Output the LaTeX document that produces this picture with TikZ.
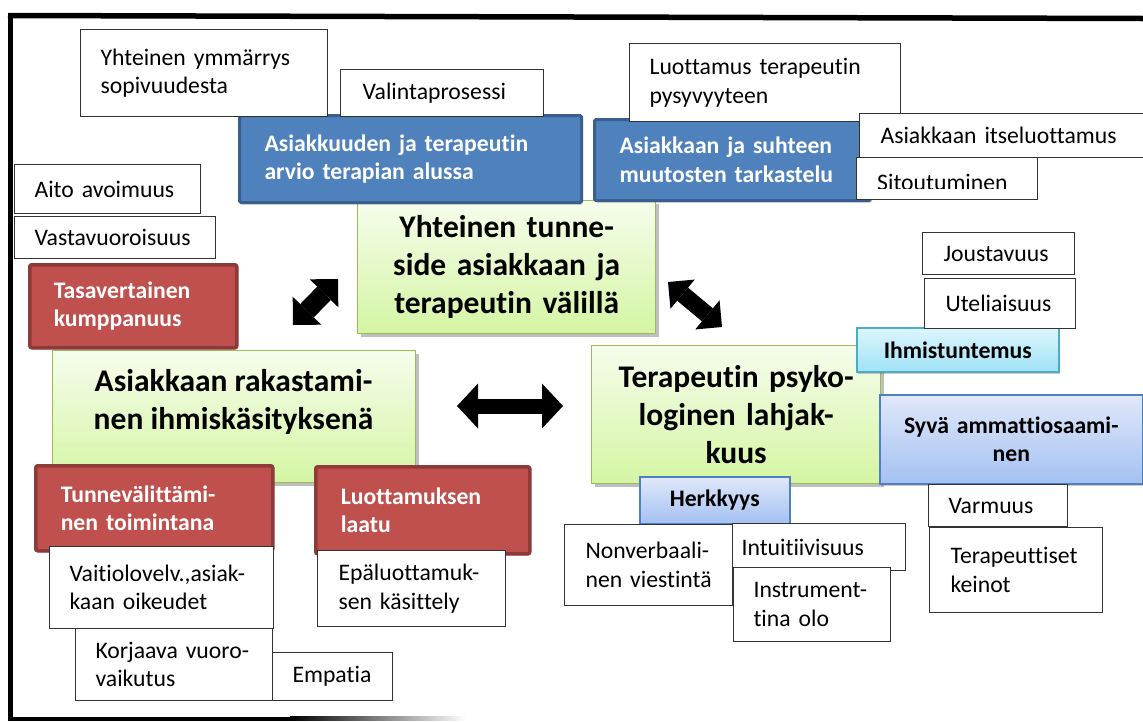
\documentclass[tikz,border=0pt]{standalone}
\usepackage{fontspec}
\setmainfont{Carlito}[Ligatures=NoCommon]
\usetikzlibrary{arrows.meta,shadows}
\definecolor{bluef}{HTML}{4F81BD}
\definecolor{blueb}{HTML}{3A5F8F}
\definecolor{redf}{HTML}{C0504D}
\definecolor{redb}{HTML}{8E3A38}
\definecolor{grt}{HTML}{F6FDEC}
\definecolor{grbtm}{HTML}{D4F5A3}
\definecolor{grb}{HTML}{9BBB59}
\definecolor{cyt}{HTML}{DDF5FD}
\definecolor{cyb}{HTML}{A0E3F6}
\definecolor{cyd}{HTML}{4BACC6}
\definecolor{lbt}{HTML}{E0E8FA}
\definecolor{lbb}{HTML}{A4C1F2}
\definecolor{lbd}{HTML}{4F81BD}
\newcommand\txtS{\fontsize{23.7}{28.5}\selectfont}
\newcommand\txtB{\fontsize{31.5}{38}\selectfont\bfseries}
\hyphenpenalty=10000
\exhyphenpenalty=10000
\tikzset{
  bx/.style={rectangle, anchor=north west, inner ysep=0pt, align=left, font=\txtS},
  wbox/.style={bx, draw=black!80, fill=white, line width=1.1pt},
  bluebox/.style={bx, draw=blueb, fill=bluef, line width=3pt, rounded corners=1.5pt, text=white, font=\txtS\bfseries,
    drop shadow={shadow xshift=1.5pt, shadow yshift=-2pt, fill=black, opacity=0.2}},
  redbox/.style={bx, draw=redb, fill=redf, line width=3.5pt, rounded corners=2pt, text=white, font=\txtS\bfseries,
    drop shadow={shadow xshift=1.5pt, shadow yshift=-2pt, fill=black, opacity=0.15}},
  greenbox/.style={bx, draw=grb, line width=1.3pt, top color=grt, bottom color=grbtm, align=center, font=\txtB,
    drop shadow={shadow xshift=3pt, shadow yshift=-3.5pt, fill=black, opacity=0.25}},
  cybox/.style={bx, draw=cyd, line width=1.6pt, top color=cyt, bottom color=cyb, align=center, font=\txtS\bfseries,
    drop shadow={shadow xshift=1.5pt, shadow yshift=-2pt, fill=black, opacity=0.2}},
  lbbox/.style={bx, draw=lbd, line width=1.6pt, top color=lbt, bottom color=lbb, align=center, font=\txtS\bfseries,
    drop shadow={shadow xshift=1.5pt, shadow yshift=-2pt, fill=black, opacity=0.2}},
  sz/.style n args={4}{minimum width=#1, minimum height=#2, inner xsep=#3, text width=#4},
  arrA/.style={line width=19pt, arrows={Triangle[length=20pt,width=40pt,line width=0pt]-Triangle[length=20pt,width=40pt,line width=0pt]}},
  arrB/.style={line width=17pt, arrows={Triangle[length=19pt,width=38pt,line width=0pt]-Triangle[length=19pt,width=38pt,line width=0pt]}},
  arrC/.style={line width=15pt, arrows={Triangle[length=21pt,width=45pt,line width=0pt]-Triangle[length=21pt,width=45pt,line width=0pt]}},
}
\begin{document}
\begin{tikzpicture}[x=1pt,y=-1pt]
\useasboundingbox (0,0) rectangle (1143,721);
\fill[white] (0,0) rectangle (1143,721);
% frame
\draw[line width=5.5pt] (8,15.5) -- (1143,18.5);
\draw[line width=5.5pt] (10.5,13) -- (10.5,721);
\fill[black] (8,716.7) rectangle (290,720.7);
\shade[left color=black, right color=white] (290,716.7) rectangle (466,720.7);

% top left group
\node[greenbox, sz={298pt}{133pt}{10pt}{278pt}] (tside) at (357,200) {Yhteinen tunne-\\side asiakkaan ja\\terapeutin välillä};
\node[bluebox, sz={342pt}{87pt}{25pt}{292pt}] (ark) at (238,114) {\mbox{Asiakkuuden ja terapeutin}\\\mbox{arvio terapian alussa}};
\node[wbox, sz={247pt}{87pt}{20pt}{207pt}] (ymm) at (80,29) {\mbox{Yhteinen ymmärrys}\\sopivuudesta};
\node[wbox, sz={203pt}{47pt}{22pt}{159pt}] (val) at (340,69) {Valintaprosessi};

% top right group
\node[bluebox, sz={276pt}{81pt}{25pt}{226pt}] (muut) at (593,118) {\mbox{Asiakkaan ja suhteen}\\\mbox{muutosten tarkastelu}};
\node[wbox, sz={271pt}{78pt}{20pt}{231pt}] (luot) at (629,43) {\mbox{Luottamus terapeutin}\\pysyvyyteen};
\node[wbox, sz={300pt}{44pt}{21pt}{258pt}] (itse) at (859,113) {\mbox{Asiakkaan itseluottamus}};
\node[wbox, sz={181pt}{42pt}{21pt}{139pt}] (sit) at (856,157) {};
\begin{scope}
\clip (856,157) rectangle (1037,188);
\node[font=\txtS, anchor=base west, inner sep=0pt] (sittxt) at (877,190.5) {Sitoutuminen};
\end{scope}

% left group
\node[wbox, sz={186pt}{49pt}{20pt}{146pt}] (aito) at (14,164) {\mbox{Aito avoimuus}};
\node[wbox, sz={201pt}{42pt}{20pt}{161pt}] (vasta) at (14,216) {Vastavuoroisuus};
\node[redbox, sz={207pt}{83pt}{24pt}{159pt}] (tasa) at (28,263) {Tasavertainen\\kumppanuus};

% right group
\node[wbox, sz={152pt}{42pt}{21pt}{110pt}] (jous) at (922,232) {Joustavuus};
\node[greenbox, sz={289pt}{138pt}{10pt}{269pt}] (tpsy) at (591,345) {Terapeutin psyko-\\loginen lahjak-\\kuus};
\node[cybox, sz={202pt}{44pt}{5pt}{192pt}] (ihm) at (856,327) {Ihmistuntemus};
\node[wbox, sz={151pt}{50pt}{21pt}{109pt}] (utel) at (924,278) {Uteliaisuus};
\node[lbbox, sz={263pt}{89pt}{10pt}{243pt}] (syva) at (879,394) {\mbox{Syvä ammattiosaami-}\\nen};
\node[lbbox, sz={150pt}{47pt}{5pt}{140pt}] (herk) at (639,476) {Herkkyys};
\node[wbox, sz={168pt}{81pt}{21pt}{126pt}] (nonv) at (564,524) {\mbox{Nonverbaali-}\\\mbox{nen viestintä}};
\node[wbox, sz={173pt}{47pt}{9pt}{155pt}] (intu) at (732,523) {Intuitiivisuus};
\node[wbox, sz={157pt}{74pt}{20pt}{117pt}] (instr) at (733,567) {\mbox{Instrument-}\\\mbox{tina olo}};
\node[wbox, sz={139pt}{42pt}{20pt}{99pt}] (varm) at (928,484) {Varmuus};
\node[wbox, sz={173pt}{85pt}{21pt}{131pt}] (tkein) at (929,527) {\mbox{Terapeuttiset}\\keinot};

% bottom left group
\node[greenbox, sz={363pt}{132pt}{10pt}{343pt}] (rak) at (52,350) {};
\node[font=\txtB, align=center] (raktxt) at (233.5,401.5) {Asiakkaan rakastami-\\nen ihmiskäsityksenä};
\node[redbox, sz={237pt}{85pt}{25pt}{187pt}] (tunv) at (34,464) {\mbox{Tunnevälittämi-}\\\mbox{nen toimintana}};
\node[redbox, sz={214pt}{87pt}{25pt}{164pt}] (laatu) at (314,465) {Luottamuksen\\laatu};
\node[wbox, sz={224pt}{82pt}{20pt}{184pt}] (vait) at (49,546) {\mbox{Vaitiolovelv.,asiak-}\\\mbox{kaan oikeudet}};
\node[wbox, sz={188pt}{76pt}{21pt}{146pt}] (epal) at (317,550) {\mbox{Epäluottamuk-}\\\mbox{sen käsittely}};
\node[wbox, sz={197pt}{72pt}{20pt}{157pt}] (korj) at (75,628) {\mbox{Korjaava vuoro-}\\vaikutus};
\node[wbox, sz={120pt}{48pt}{20pt}{80pt}] (emp) at (272,652) {Empatia};

% arrows
\coordinate (a1s) at (293,325);
\coordinate (a1e) at (338,279);
\coordinate (a2s) at (668,282);
\coordinate (a2e) at (722,327);
\coordinate (a3s) at (457,406);
\coordinate (a3e) at (563,406);
\draw[arrA] (a1s) -- (a1e);
\draw[arrB] (a2s) -- (a2e);
\draw[arrC] (a3s) -- (a3e);
\end{tikzpicture}
\end{document}
